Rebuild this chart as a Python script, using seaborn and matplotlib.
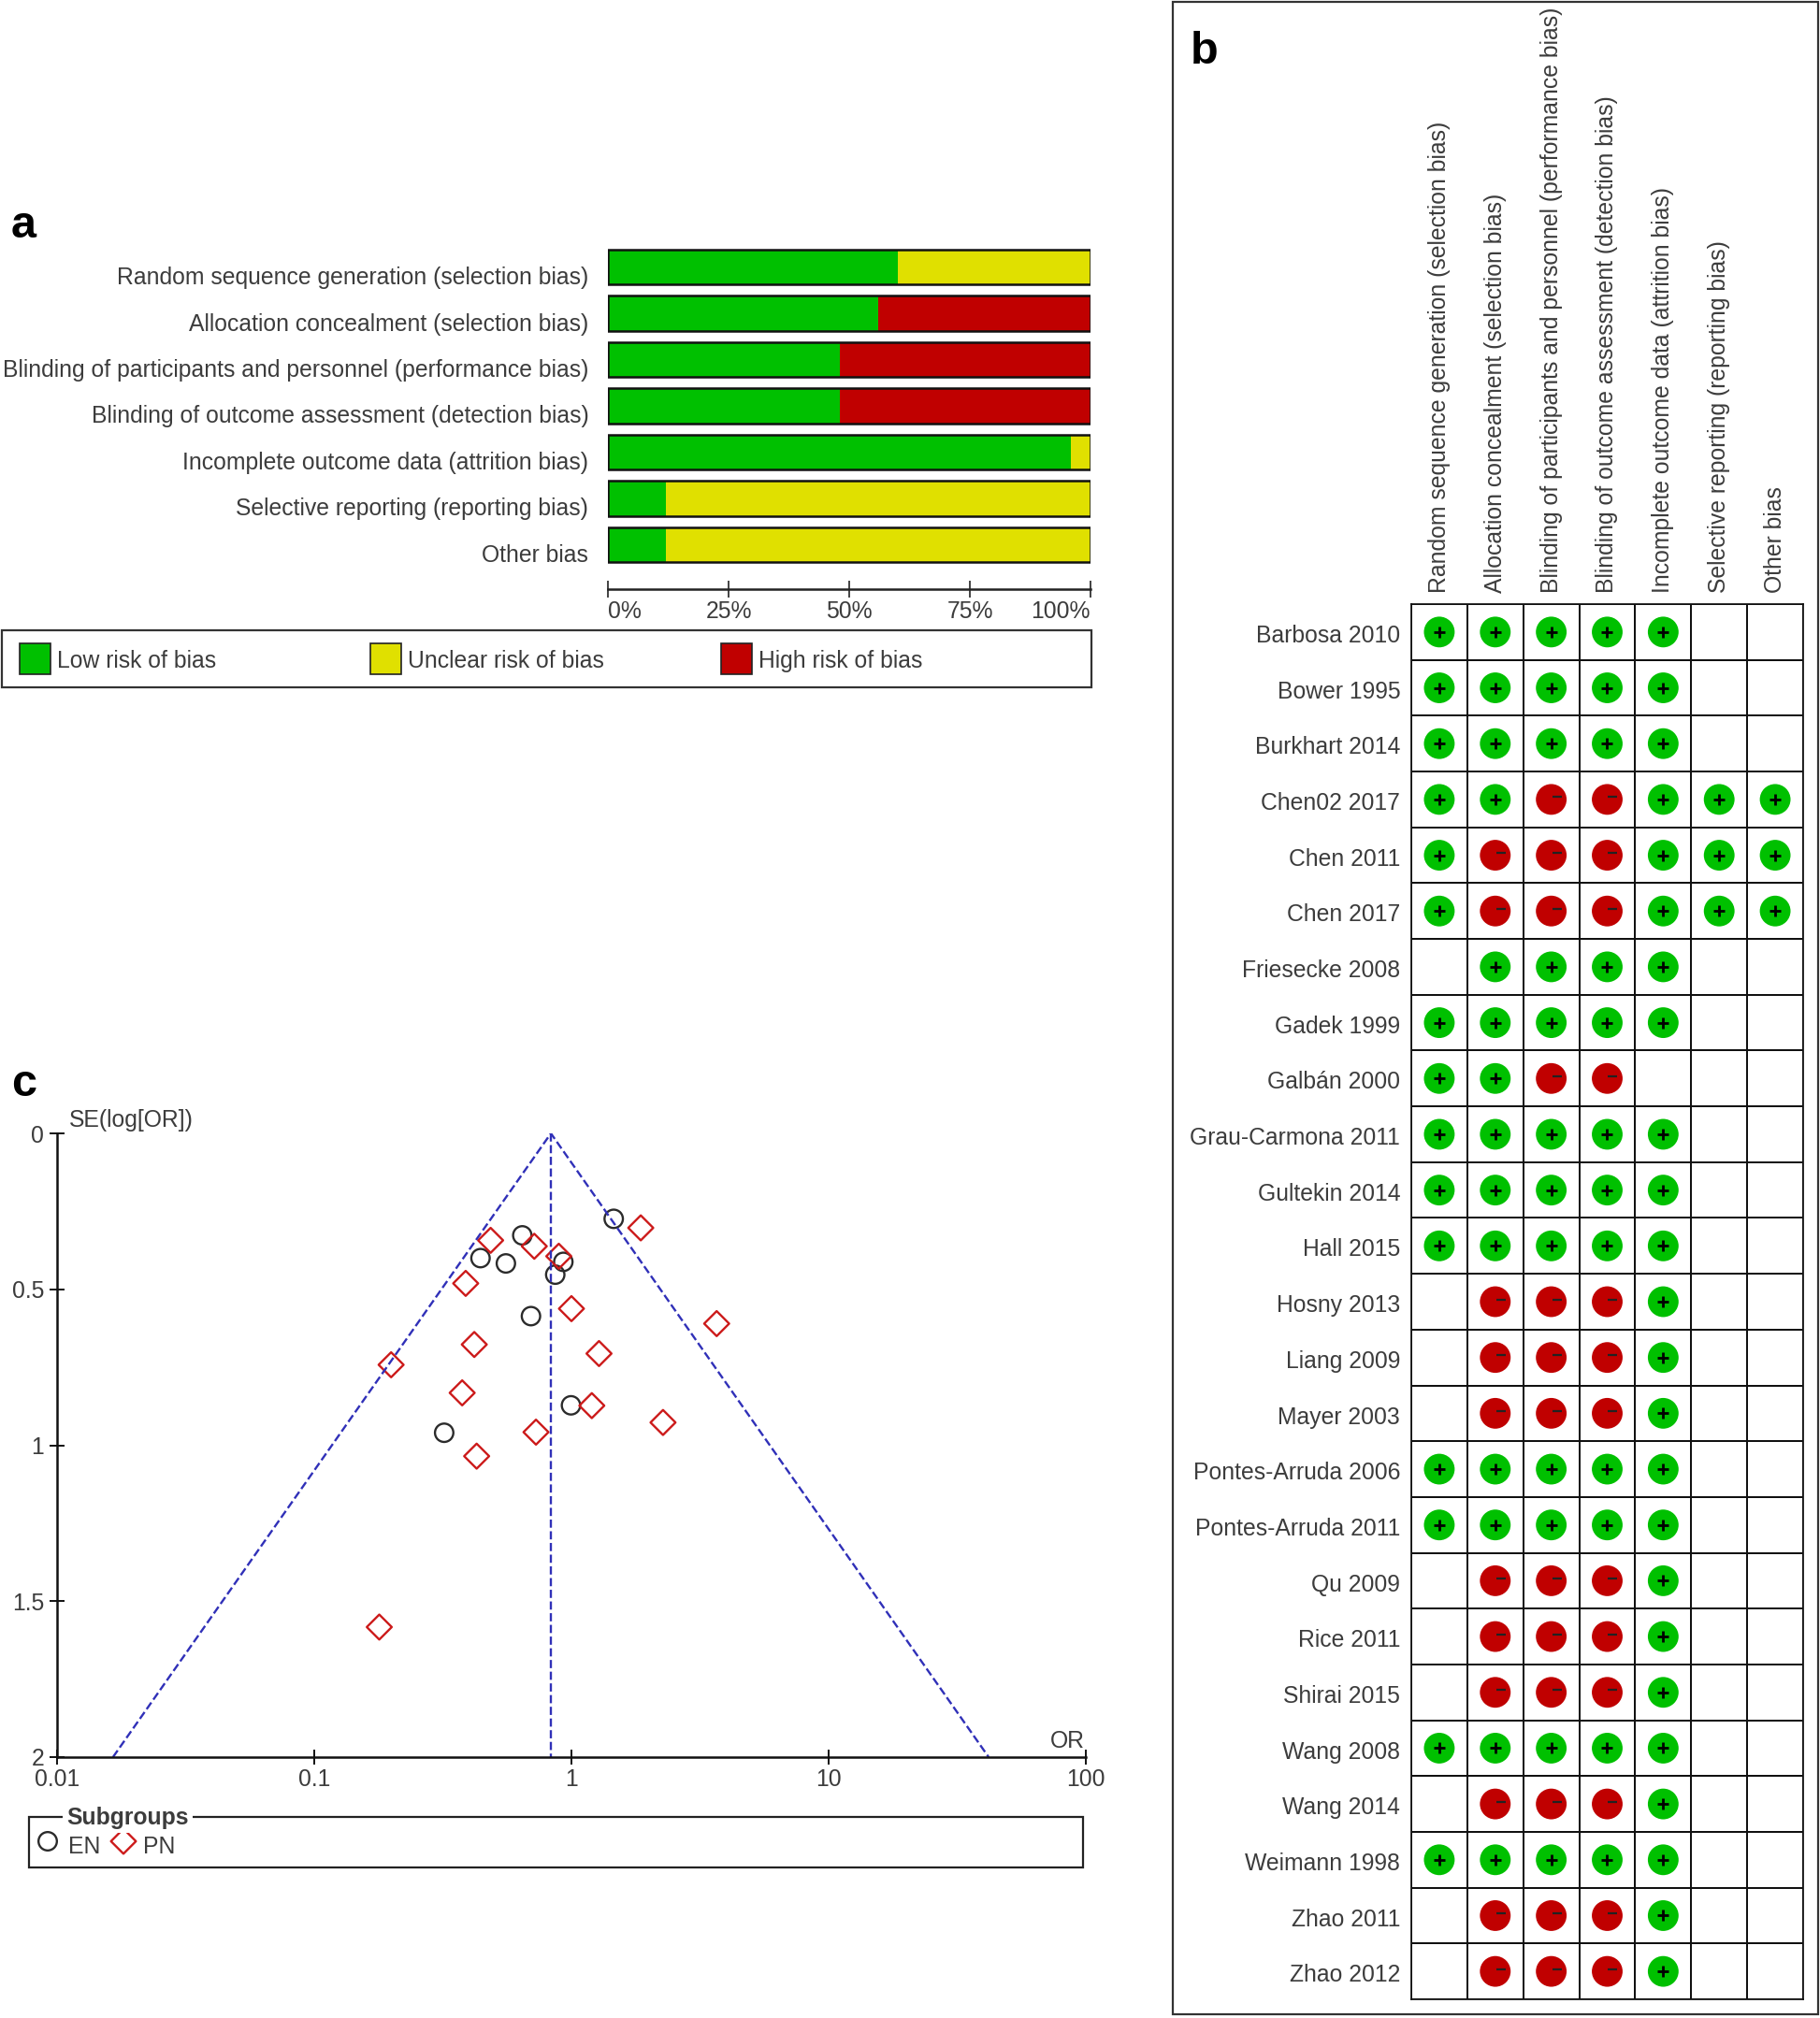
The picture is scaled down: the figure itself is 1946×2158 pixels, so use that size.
import numpy as np
import pandas as pd
import seaborn as sns
import matplotlib.pyplot as plt
from matplotlib.patches import Rectangle

W, H = 1946, 2158

# panel a
domains = ['Random sequence generation (selection bias)', 'Allocation concealment (selection bias)',
           'Blinding of participants and personnel (performance bias)', 'Blinding of outcome assessment (detection bias)',
           'Incomplete outcome data (attrition bias)', 'Selective reporting (reporting bias)', 'Other bias']
low_risk = [60, 56, 48, 48, 96, 12, 12]
unclear_risk = [40, 0, 0, 0, 4, 88, 88]
high_risk = [0, 44, 52, 52, 0, 0, 0]
pct_ticks = [0, 25, 50, 75, 100]

# panel b
studies = ['Barbosa 2010', 'Bower 1995', 'Burkhart 2014', 'Chen02 2017', 'Chen 2011', 'Chen 2017', 'Friesecke 2008',
           'Gadek 1999', 'Galbán 2000', 'Grau-Carmona 2011', 'Gultekin 2014', 'Hall 2015', 'Hosny 2013', 'Liang 2009',
           'Mayer 2003', 'Pontes-Arruda 2006', 'Pontes-Arruda 2011', 'Qu 2009', 'Rice 2011', 'Shirai 2015', 'Wang 2008',
           'Wang 2014', 'Weimann 1998', 'Zhao 2011', 'Zhao 2012']
judgements = ['+++++  ', '+++++  ', '+++++  ', '++--+++', '+---+++', '+---+++', ' ++++  ',
              '+++++  ', '++--   ', '+++++  ', '+++++  ', '+++++  ', ' ---+  ', ' ---+  ',
              ' ---+  ', '+++++  ', '+++++  ', ' ---+  ', ' ---+  ', ' ---+  ', '+++++  ',
              ' ---+  ', '+++++  ', ' ---+  ', ' ---+  ']

# panel c
en_or = [1.46, 0.644, 0.443, 0.556, 0.93, 0.865, 0.696, 0.996, 0.32]
en_se = [0.274, 0.327, 0.40, 0.417, 0.412, 0.453, 0.586, 0.872, 0.96]
pn_or = [1.86, 0.485, 0.717, 0.893, 0.388, 1.0, 3.67, 0.419, 1.28, 0.199, 0.376, 1.2, 2.27, 0.728, 0.428, 0.179]
pn_se = [0.303, 0.343, 0.362, 0.394, 0.481, 0.562, 0.61, 0.677, 0.706, 0.742, 0.832, 0.873, 0.927, 0.958, 1.035, 1.583]
funnel_or = [0.0165, 0.832, 41.9]
funnel_se = [2, 0, 2]
pooled_or = [0.832, 0.832]
pooled_se = [0, 2]
or_ticks = [0.01, 0.1, 1, 10, 100]
or_labels = ['0.01', '0.1', '1', '10', '100']
se_ticks = [0, 0.5, 1, 1.5, 2]
se_labels = ['0', '0.5', '1', '1.5', '2']

GREEN, YELLOW, RED = '#00C000', '#E0E000', '#C00000'
GREY = '#3c3c3c'
FS = 17.8

sns.set_theme(style='white')
plt.rcParams['font.family'] = ['Liberation Sans', 'DejaVu Sans']


def px_axes(left, top, right, bottom):
    a = fig.add_axes([left / W, 1 - bottom / H, (right - left) / W, (bottom - top) / H])
    a.patch.set_alpha(0)
    return a


fig = plt.figure(figsize=(W / 100, H / 100), dpi=100, facecolor='white')

# 패널 문자, 테두리, 범례는 픽셀 좌표로
bg = fig.add_axes([0, 0, 1, 1], zorder=0)
bg.set_xlim(0, W)
bg.set_ylim(H, 0)
bg.axis('off')
bg.text(12, 242, 'a', fontsize=35, fontweight='bold', color='black', va='center')
bg.text(1273, 55, 'b', fontsize=35, fontweight='bold', color='black', va='center')
bg.text(12, 1159, 'c', fontsize=35, fontweight='bold', color='black', va='center')
bg.add_patch(Rectangle((1254, 2), 690, 2152, fill=False, ec='#333333', lw=1.6))

# 패널 a: 누적 막대
ax_a = px_axes(650, 261, 1166, 607)
ax_a.set_zorder(1)
total = np.add(np.add(low_risk, unclear_risk), high_risk)
low_unclear = np.add(low_risk, unclear_risk)
for vals, col in [(total, RED), (low_unclear, YELLOW), (low_risk, GREEN)]:
    sns.barplot(x=vals, y=domains, color=col, orient='h', width=0.76, saturation=1, linewidth=0, ax=ax_a)
sns.barplot(x=total, y=domains, color='#111111', orient='h', width=0.76, fill=False, linewidth=1.8, ax=ax_a)
ax_a.set_xlim(0, 100)
ax_a.set_ylim(6.5, -0.5)
ax_a.set_yticks([])
for i, d in enumerate(domains):
    ax_a.text(-4.0, i + 0.23, d, ha='right', va='center', fontsize=FS, color=GREY)
sns.despine(ax=ax_a, left=True, top=True, right=True)
ax_a.spines['bottom'].set_position(('outward', 16.5))
ax_a.spines['bottom'].set_linewidth(1.8)
ax_a.spines['bottom'].set_color('#222222')
ax_a.set_xticks(pct_ticks)
ax_a.set_xticklabels([f'{t}%' for t in pct_ticks], fontsize=FS, color=GREY)
ax_a.tick_params(axis='x', bottom=True, direction='inout', length=13, width=1.2, color='#222222', pad=2)
ax_a.get_xticklabels()[0].set_ha('left')
ax_a.get_xticklabels()[-1].set_ha('right')

bg.add_patch(Rectangle((2, 674), 1165, 61, fill=False, ec='#333333', lw=1.6))
for x0, col, txt in [(21, GREEN, 'Low risk of bias'), (396, YELLOW, 'Unclear risk of bias'), (771, RED, 'High risk of bias')]:
    bg.add_patch(Rectangle((x0, 688), 33, 33, fc=col, ec='#222222', lw=1.2))
    bg.text(x0 + 40, 707, txt, fontsize=FS, color=GREY, va='center')

# 패널 b: 평가표
ax_b = px_axes(1509, 646, 1928, 2138)
ax_b.set_zorder(1)
blank = np.zeros((len(studies), len(domains)))
sns.heatmap(blank, cmap=['white'], cbar=False, linewidths=1.25, linecolor='#111111',
            xticklabels=domains, yticklabels=studies, ax=ax_b)
for s in ax_b.spines.values():
    s.set_visible(True)
    s.set_linewidth(1.25)
    s.set_color('#111111')
ax_b.xaxis.tick_top()
ax_b.set_yticks(np.arange(len(studies)) + 0.57, studies)
ax_b.tick_params(axis='x', length=0, pad=9, rotation=90, labelsize=FS, labelcolor=GREY)
ax_b.tick_params(axis='y', length=0, pad=8.5, rotation=0, labelsize=FS, labelcolor=GREY)

rows = [(c + 0.5, r + 0.5, j) for r, line in enumerate(judgements) for c, j in enumerate(line) if j != ' ']
cells = pd.DataFrame(rows, columns=['col', 'row', 'judgement'])
sns.scatterplot(data=cells, x='col', y='row', hue='judgement', palette={'+': GREEN, '-': RED}, s=560,
                linewidth=0, legend=False, ax=ax_b, clip_on=False)
plus = cells[cells.judgement == '+']
minus = cells[cells.judgement == '-']
sns.scatterplot(x=plus.col, y=plus.row, marker='+', color='black', s=85, linewidth=2.0, ax=ax_b)
sns.scatterplot(x=minus.col + 0.1, y=minus.row - 0.04, marker='_', color='#222222', s=60, linewidth=1.6, ax=ax_b)
ax_b.set_xlabel('')
ax_b.set_ylabel('')
ax_b.set_xlim(0, len(domains))
ax_b.set_ylim(len(studies), 0)

# 패널 c: funnel plot
ax_c = px_axes(61, 1212, 1161, 1879)
ax_c.set_zorder(1)
ax_c.set_xscale('log')
sns.lineplot(x=funnel_or, y=funnel_se, sort=False, estimator=None, color='#3030B8', linestyle='--', linewidth=1.7, ax=ax_c)
sns.lineplot(x=pooled_or, y=pooled_se, sort=False, estimator=None, color='#3030B8', linestyle='--', linewidth=1.7, ax=ax_c)
sns.scatterplot(x=en_or, y=en_se, marker='o', s=200, facecolor='none', edgecolor='#2b2b2b', linewidth=1.7, ax=ax_c, clip_on=False)
sns.scatterplot(x=pn_or, y=pn_se, marker='D', s=185, facecolor='none', edgecolor='#CC1A1A', linewidth=1.7, ax=ax_c, clip_on=False)
ax_c.set_xlim(0.01, 100)
ax_c.set_ylim(2, 0)
sns.despine(ax=ax_c)
for side in ['left', 'bottom']:
    ax_c.spines[side].set_linewidth(1.8)
    ax_c.spines[side].set_color('#111111')
ax_c.set_xticks(or_ticks)
ax_c.set_xticklabels(or_labels, fontsize=FS, color=GREY)
ax_c.minorticks_off()
ax_c.set_yticks(se_ticks)
ax_c.set_yticklabels(se_labels, fontsize=FS, color=GREY)
ax_c.tick_params(axis='x', bottom=True, direction='inout', length=12, width=1.4, color='#111111', pad=3)
ax_c.tick_params(axis='y', left=True, direction='inout', length=12, width=1.4, color='#111111', pad=4)
bg.text(74, 1198, 'SE(log[OR])', fontsize=FS, color=GREY, va='center')
bg.text(1160, 1862, 'OR', fontsize=FS, color=GREY, va='center', ha='right')

bg.add_patch(Rectangle((31, 1943), 1127, 54, fill=False, ec='#222222', lw=1.6))
bg.text(71, 1944, 'Subgroups', fontsize=FS, fontweight='bold', color=GREY, va='center',
        bbox=dict(fc='white', ec='none', pad=3))
bg.scatter([51], [1969], marker='o', s=200, facecolor='none', edgecolor='#2b2b2b', linewidth=1.7)
bg.scatter([132], [1969], marker='D', s=185, facecolor='none', edgecolor='#CC1A1A', linewidth=1.7)
bg.text(73, 1975, 'EN', fontsize=FS, color=GREY, va='center')
bg.text(153, 1975, 'PN', fontsize=FS, color=GREY, va='center')

fig.savefig('out.png', dpi=100)
plt.close(fig)
